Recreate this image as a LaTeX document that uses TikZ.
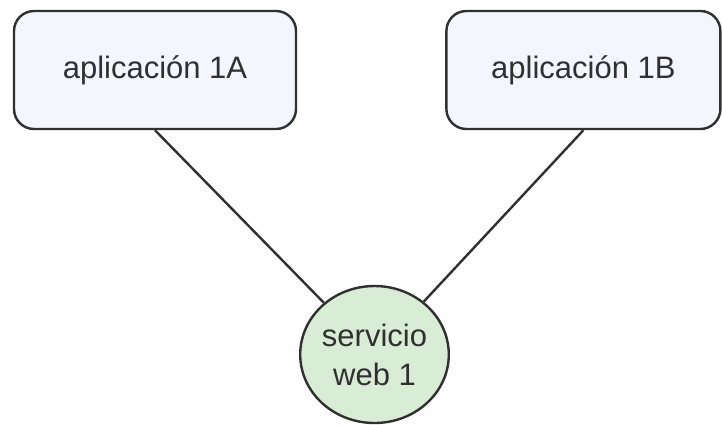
\documentclass[tikz,border=0pt]{standalone}
\usepackage{fontspec}
\setmainfont{Liberation Sans}
\usetikzlibrary{positioning,shapes.geometric}
\definecolor{appfill}{RGB}{243,246,252}
\definecolor{wsfill}{RGB}{217,236,213}
\definecolor{edgegray}{RGB}{48,48,48}

\begin{document}
\begin{tikzpicture}[x=1pt,y=-1pt,line width=2.4pt,
  app/.style={draw=edgegray,fill=appfill,rounded corners=20pt,
    minimum width=282pt,minimum height=118pt,text=edgegray,
    font=\fontsize{31}{38}\selectfont},
  service/.style={ellipse,draw=edgegray,fill=wsfill,
    minimum width=147pt,minimum height=137pt,inner sep=0pt,
    align=center,text=edgegray,font=\fontsize{31}{39}\selectfont}]
  \useasboundingbox (0,0) rectangle (722,424);
  \node[app]                      (app1a) at (155,70)        {aplicación 1A};
  \node[app,minimum width=274pt]  (app1b) [right=148pt of app1a] {aplicación 1B};
  \node[service]                  (ws1)   at (374.5,354.5)   {servicio\\web 1};

  \path[draw=edgegray]
  (app1a.south) edge (ws1)
  (app1b.south) edge (ws1);
\end{tikzpicture}
\end{document}
